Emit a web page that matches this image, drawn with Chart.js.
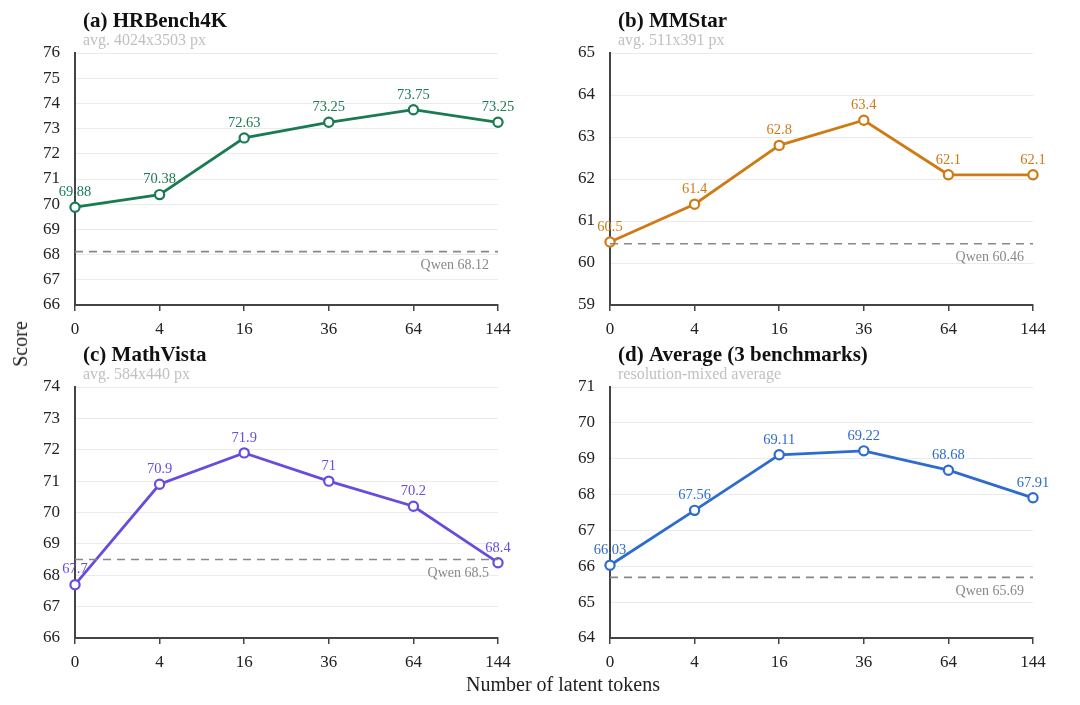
<!DOCTYPE html>
<html>
<head>
<meta charset="utf-8">
<title>Latent tokens ablation</title>
<script src="https://cdn.jsdelivr.net/npm/chart.js@4.4.0/dist/chart.umd.min.js"></script>
<style>
  body { margin: 0; background: #fff; width: 1080px; height: 705px; position: relative; overflow: hidden;
         font-family: "Liberation Serif", "Times New Roman", serif; }
  .panel { position: absolute; }
  .axis-title { position: absolute; font-size: 20px; color: #222; white-space: nowrap; line-height: 1; }
</style>
</head>
<body>
<div class="panel" style="left:0;top:0"><canvas id="chartA" width="540" height="345"></canvas></div>
<div class="panel" style="left:540px;top:0"><canvas id="chartB" width="540" height="345"></canvas></div>
<div class="panel" style="left:0;top:340px"><canvas id="chartC" width="540" height="340"></canvas></div>
<div class="panel" style="left:540px;top:340px"><canvas id="chartD" width="540" height="340"></canvas></div>
<div class="axis-title" style="left:20px;top:344px;transform:translate(-50%,-50%) rotate(-90deg)">Score</div>
<div class="axis-title" style="left:563px;top:684px;transform:translate(-50%,-50%)">Number of latent tokens</div>

<script>
// data
const tokenLabels = ['0', '4', '16', '36', '64', '144'];
const hrbench = [69.88, 70.38, 72.63, 73.25, 73.75, 73.25];
const mmstar = [60.5, 61.4, 62.8, 63.4, 62.1, 62.1];
const mathvista = [67.7, 70.9, 71.9, 71, 70.2, 68.4];
const average = [66.03, 67.56, 69.11, 69.22, 68.68, 67.91];
const qwenBaseline = [68.12, 60.46, 68.5, 65.69];
const yRanges = [[66, 76], [59, 65], [66, 74], [64, 71]];

const serif = '"Liberation Serif", "Times New Roman", serif';
Chart.defaults.font.family = serif;

// draws titles, value labels and the baseline label
const panelText = {
  id: 'panelText',
  afterDatasetsDraw(chart, args, opts) {
    const { ctx, chartArea, scales } = chart;
    ctx.save();
    ctx.textBaseline = 'middle';

    const qy = scales.y.getPixelForValue(opts.qwen);
    ctx.font = '14px ' + serif;
    ctx.fillStyle = '#888';
    ctx.textAlign = 'right';
    ctx.fillText('Qwen ' + opts.qwen, chartArea.right - 9, qy + 14);

    const ds = chart.data.datasets[1];
    ctx.font = '14.5px ' + serif;
    ctx.fillStyle = opts.color;
    ctx.textAlign = 'center';
    chart.getDatasetMeta(1).data.forEach((pt, i) => {
      ctx.fillText(String(ds.data[i]), pt.x, pt.y - 15);
    });

    ctx.textAlign = 'left';
    ctx.font = 'bold 21px ' + serif;
    ctx.fillStyle = '#111';
    ctx.fillText(opts.title, chartArea.left + 8, chartArea.top - 31);
    ctx.font = '16px ' + serif;
    ctx.fillStyle = '#c0c0c0';
    ctx.fillText(opts.subtitle, chartArea.left + 8, chartArea.top - 12);
    ctx.restore();
  }
};

const makePanel = (id, pos, area, title, subtitle, values, color, qwen, range) => {
  const yW = 60, xH = 40;
  new Chart(document.getElementById(id), {
    type: 'line',
    data: {
      labels: tokenLabels,
      datasets: [
        {
          data: tokenLabels.map(() => qwen),
          borderColor: '#888',
          borderWidth: 1.6,
          borderDash: [8, 6],
          pointRadius: 0,
          clip: false
        },
        {
          data: values,
          borderColor: color,
          borderWidth: 2.8,
          tension: 0,
          pointRadius: 4.6,
          pointBorderWidth: 2.2,
          pointBackgroundColor: '#fff',
          pointBorderColor: color,
          clip: false
        }
      ]
    },
    options: {
      responsive: false,
      animation: false,
      events: [],
      layout: {
        autoPadding: false,
        padding: {
          left: area.l - pos.l - yW,
          top: area.t - pos.t,
          right: pos.l + pos.w - area.r,
          bottom: pos.t + pos.h - area.b - xH
        }
      },
      plugins: {
        legend: { display: false },
        tooltip: { enabled: false },
        panelText: { title, subtitle, color, qwen }
      },
      scales: {
        x: {
          offset: false,
          afterFit: s => { s.height = xH; },
          grid: { drawOnChartArea: false, drawTicks: true, tickLength: 6, color: '#444', lineWidth: 1.5 },
          border: { display: true, color: '#444', width: 2 },
          ticks: { color: '#222', font: { size: 17 }, padding: 8, maxRotation: 0 }
        },
        y: {
          min: range[0],
          max: range[1],
          afterFit: s => { s.width = yW; },
          grid: { color: '#ebebeb', lineWidth: 1, drawTicks: false },
          border: { display: true, color: '#444', width: 2 },
          ticks: { stepSize: 1, color: '#222', font: { size: 17 }, padding: 15 }
        }
      }
    },
    plugins: [panelText]
  });
};

makePanel('chartA', { l: 0, t: 0, w: 540, h: 345 }, { l: 75, r: 498, t: 53, b: 305 },
  '(a) HRBench4K', 'avg. 4024x3503 px', hrbench, '#1a7a52', qwenBaseline[0], yRanges[0]);
makePanel('chartB', { l: 540, t: 0, w: 540, h: 345 }, { l: 610, r: 1033, t: 53, b: 305 },
  '(b) MMStar', 'avg. 511x391 px', mmstar, '#cf7a14', qwenBaseline[1], yRanges[1]);
makePanel('chartC', { l: 0, t: 340, w: 540, h: 340 }, { l: 75, r: 498, t: 387, b: 638 },
  '(c) MathVista', 'avg. 584x440 px', mathvista, '#6a4bdc', qwenBaseline[2], yRanges[2]);
makePanel('chartD', { l: 540, t: 340, w: 540, h: 340 }, { l: 610, r: 1033, t: 387, b: 638 },
  '(d) Average (3 benchmarks)', 'resolution-mixed average', average, '#2d6bcf', qwenBaseline[3], yRanges[3]);
</script>
</body>
</html>
